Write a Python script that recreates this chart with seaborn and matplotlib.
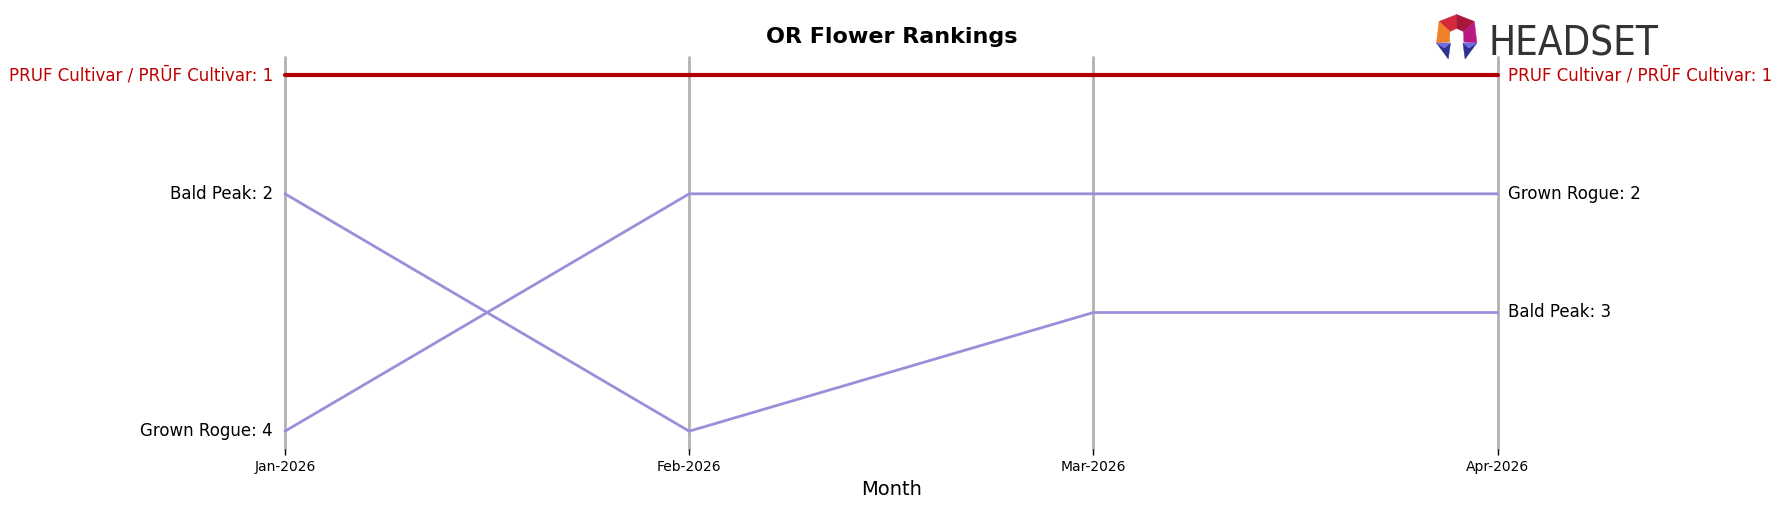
import numpy as np
import pandas as pd
import matplotlib
matplotlib.use("Agg")
import matplotlib.pyplot as plt
from matplotlib.patches import Polygon, Circle
import seaborn as sns

# ---- data ----
months = ["Jan-2026", "Feb-2026", "Mar-2026", "Apr-2026"]
brands = ["PRUF Cultivar / PRŪF Cultivar", "Bald Peak", "Grown Rogue"]
pruf_ranks = [1, 1, 1, 1]
bald_peak_ranks = [2, 4, 3, 3]
grown_rogue_ranks = [4, 2, 2, 2]
title = "OR Flower Rankings"

series = {brands[0]: pruf_ranks, brands[1]: bald_peak_ranks, brands[2]: grown_rogue_ranks}
rows = []
for b, ranks in series.items():
    for i, r in enumerate(ranks):
        rows.append({"brand": b, "x": i, "month": months[i], "rank": r})
df = pd.DataFrame(rows)

sns.set_style("white")
plt.rcParams["font.family"] = ["DejaVu Sans"]
plt.rcParams["text.color"] = "black"
plt.rcParams["axes.labelcolor"] = "black"
plt.rcParams["xtick.color"] = "black"
plt.rcParams["xtick.labelcolor"] = "black"

W, H = 1780, 507
fig = plt.figure(figsize=(W / 100, H / 100), dpi=100)
ax_l, ax_r, ax_t, ax_b = 285, 1497.6, 57.3, 449
ax = fig.add_axes([ax_l / W, 1 - ax_b / H, (ax_r - ax_l) / W, (ax_b - ax_t) / H])

RED_LINE = "#B00000"
RED_TEXT = "#C00000"
PURPLE = "#9B8FD9"
palette = {brands[0]: RED_LINE, brands[1]: PURPLE, brands[2]: PURPLE}
sizes = {brands[0]: 3.0, brands[1]: 2.0, brands[2]: 2.0}

for i in range(len(months)):
    ax.axvline(i, color="gray", alpha=0.6, lw=2, zorder=0, clip_on=False)

sns.lineplot(data=df, x="x", y="rank", hue="brand", size="brand", sizes=sizes,
             palette=palette, legend=False, ax=ax, sort=False, estimator=None)
for ln in ax.get_lines():
    ln.set_clip_on(False)

ax.set_xlim(0, len(months) - 1)
ax.set_ylim(4.15, 0.85)
ax.set_xticks(range(len(months)))
ax.set_xticklabels(months, fontsize=10, color="black")
ax.set_yticks([])
ax.set_ylabel("")
ax.set_xlabel("Month", fontsize=14, color="black")
for s in ax.spines.values():
    s.set_visible(False)
ax.tick_params(axis="x", bottom=True, length=4, width=1, color="black", pad=4)
ax.set_title(title, fontsize=16, fontweight="bold", pad=10, color="black")

for b, ranks in series.items():
    c = RED_TEXT if b == brands[0] else "black"
    ax.text(-0.03, ranks[0], f"{b}: {ranks[0]}", ha="right", va="center", fontsize=12, color=c)
    ax.text(len(months) - 1 + 0.025, ranks[-1], f"{b}: {ranks[-1]}", ha="left", va="center",
            fontsize=12, color=c)

# ---- logo ----
lax = fig.add_axes([1430 / W, 1 - 62 / H, 230 / W, 52 / H])
lax.set_xlim(1430, 1660)
lax.set_ylim(62, 10)
lax.axis("off")
cx = 1456.7
T, UL, UR = (cx, 14.5), (1439, 21.5), (2 * cx - 1439, 21.5)
L, R = (1436.5, 43), (2 * cx - 1436.5, 43)
IT, IUL, IUR = (cx, 28.5), (1450, 31.5), (2 * cx - 1450, 31.5)
IL, IR = (1449.5, 42), (2 * cx - 1449.5, 42)
facets = [
    ([T, IT, IUL, UL], "#D42A3C"),
    ([T, UR, IUR, IT], "#A8173A"),
    ([UL, IUL, IL, L], "#F07F2A"),
    ([UR, R, IR, IUR], "#B81A82"),
]
A, B, C, M = (1436.5, 43), (1450.5, 43), (1448.3, 59), (1444.5, 48)
mir = lambda p: (2 * cx - p[0], p[1])
facets += [
    ([A, M, B, C], "#2E3192"), ([A, B, M], "#6E6CE0"),
    ([mir(A), mir(M), mir(B), mir(C)], "#2E3192"), ([mir(A), mir(B), mir(M)], "#6E6CE0"),
]
for pts, col in facets:
    lax.add_patch(Polygon(pts, closed=True, facecolor=col, edgecolor=col, lw=0.3))
lax.add_patch(Circle((cx, 36.5), 6.5, facecolor="white", edgecolor="none"))

logo_fs = 34.6
t = fig.text(1488 / W, 1 - 55 / H, "HEADSET", ha="left", va="baseline",
             fontsize=logo_fs, color="#333333", fontstretch="condensed")
fig.canvas.draw()
wpx = t.get_window_extent().width
if wpx > 170:
    t.set_fontsize(logo_fs * 170 / wpx)

fig.savefig("out.png", dpi=100)
